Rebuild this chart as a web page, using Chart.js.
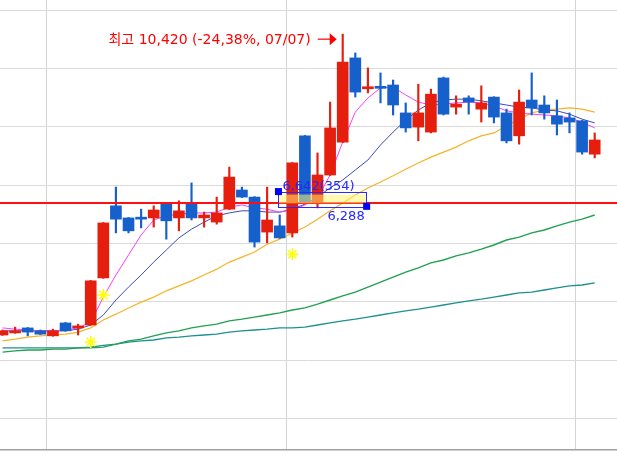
<!DOCTYPE html>
<html>
<head>
<meta charset="utf-8">
<script src="https://cdn.jsdelivr.net/npm/chart.js@4.4.1/dist/chart.umd.min.js"></script>
<style>
html, body { margin: 0; padding: 0; background: #ffffff; }
</style>
</head>
<body>
<canvas id="stockChart" width="617" height="455"></canvas>
<script>
// Daily candles (oldest -> newest)
const openPrices  = [3200,3250,3370,3300,3180,3490,3370,3440,4570,6300,6010,6010,6010,6340,6010,6340,6010,5910,6220,6680,6510,5670,5820,5650,7980,6390,7040,7830,9850,9110,9140,9200,8530,8190,8070,9370,8670,8890,8620,8910,8530,7980,8840,8720,8460,8410,8340,7540];
const highPrices  = [3320,3390,3380,3320,3340,3500,3460,4510,5900,6750,6020,6220,6300,6350,6420,6850,6150,6510,7230,6750,6520,6750,6080,7340,7990,7570,8790,10420,9970,9610,9490,9320,8770,9220,9100,9390,8940,8940,9180,8920,8620,9080,9490,8940,8840,8530,8350,8050];
const lowPrices   = [3190,3240,3180,3210,3170,3290,3200,3430,4560,5650,5650,5770,5790,5500,5700,5960,5790,5860,6210,6500,5310,5410,5520,5550,6380,6250,7030,7820,8910,9010,8770,8480,8070,7860,8050,8480,8500,8500,8310,8290,7810,7780,8480,8380,8000,8050,7540,7450];
const closePrices = [3300,3300,3270,3220,3300,3300,3390,4500,5890,5980,5700,5980,6200,5940,6180,6010,6080,6130,6990,6510,5430,5960,5530,7330,6390,7040,8170,9750,9030,9130,9120,8720,8170,8530,8980,8500,8740,8790,8770,8430,7860,8790,8650,8530,8260,8310,7590,7880];

// Moving averages
const ma5   = [3370,3340,3320,3300,3300,3320,3370,3510,4110,4640,5120,5600,5960,6060,6100,6130,6130,6150,6270,6320,6250,6220,6150,6200,6320,6490,7040,7830,8550,8890,9130,9150,8960,8790,8720,8740,8770,8790,8770,8700,8580,8530,8500,8480,8460,8410,8310,8170];
const ma10  = [3300,3300,3300,3300,3300,3300,3340,3440,3680,4040,4350,4640,4950,5240,5530,5740,5910,6060,6130,6180,6180,6150,6150,6220,6340,6510,6730,6920,7160,7400,7760,8070,8360,8600,8770,8840,8860,8860,8820,8770,8720,8670,8650,8600,8580,8500,8380,8290];
const ma20  = [3060,3100,3150,3180,3200,3220,3270,3370,3560,3700,3850,3990,4110,4260,4380,4500,4640,4780,4950,5070,5190,5380,5500,5650,5790,5980,6180,6370,6560,6730,6870,7020,7180,7330,7470,7590,7710,7860,7980,8050,8220,8380,8530,8600,8620,8650,8620,8550];
const ma60  = [2790,2820,2840,2840,2860,2860,2890,2890,2910,2980,3060,3100,3180,3250,3300,3370,3420,3460,3540,3580,3630,3680,3730,3800,3850,3940,4040,4140,4230,4350,4470,4590,4710,4810,4930,5000,5100,5170,5260,5360,5480,5550,5650,5720,5820,5910,5980,6080];
const ma120 = [2890,2890,2890,2890,2890,2890,2890,2910,2950,2980,3030,3060,3080,3130,3150,3180,3200,3220,3270,3300,3320,3340,3370,3370,3390,3440,3490,3540,3580,3630,3680,3730,3780,3820,3870,3920,3970,4020,4060,4110,4160,4210,4230,4280,4330,4380,4400,4450];

// Signal markers (yellow asterisks)
const starIndex = [7, 8, 23];
const starPrice = [3030, 4160, 5140];

// Grid positions
const priceGrid = [11000, 9600, 8200, 6800, 5400, 4000, 2600, 1200];
const monthBreaks = [3.5, 22.5, 45.5];

// Reference line and annotations
const refPrice = 6370;
const highIndex = 27;
const highPrice = 10420;
const highText = '최고 10,420 (-24,38%, 07/07)';
const measureFrom = 21.9;
const measureTo = 28.9;
const measureHigh = 6642;
const measureLow = 6288;
const measureTopText = '6,642(354)';
const measureLowText = '6,288';

const UP = '#e61e0e';
const DOWN = '#1660cc';
const candleColors = openPrices.map((o, i) => closePrices[i] >= o ? UP : DOWN);

const bodies = openPrices.map((o, i) => ({ x: i, y: [o, closePrices[i]] }));
const wicks = lowPrices.map((l, i) => ({ x: i, y: [l, highPrices[i]] }));
const toPoints = arr => arr.map((v, i) => ({ x: i, y: v }));

const lineDefaults = {
    type: 'line',
    pointRadius: 0,
    tension: 0,
    fill: false
};

// Overlay: high label, measuring box
const overlayPlugin = {
    id: 'overlay',
    afterDatasetsDraw(chart) {
        const { ctx, scales: { x, y } } = chart;
        ctx.save();

        // measuring box
        const bx1 = x.getPixelForValue(measureFrom);
        const bx2 = x.getPixelForValue(measureTo);
        const by1 = y.getPixelForValue(measureHigh);
        const by2 = y.getPixelForValue(measureLow);
        ctx.fillStyle = 'rgba(255, 245, 110, 0.55)';
        ctx.fillRect(bx1, by1 + 3, bx2 - bx1, by2 - by1 - 6);
        ctx.strokeStyle = '#2a2aff';
        ctx.lineWidth = 1;
        ctx.strokeRect(Math.round(bx1) + 0.5, Math.round(by1) + 0.5, Math.round(bx2 - bx1), Math.round(by2 - by1));
        ctx.fillStyle = '#0000ff';
        ctx.fillRect(bx1 - 3.5, by1 - 3.5, 7, 7);
        ctx.fillRect(bx2 - 3.5, by2 - 3.5, 7, 7);

        ctx.font = '13px "DejaVu Sans", "Noto Sans CJK KR", sans-serif';
        ctx.fillStyle = '#2626ff';
        ctx.textBaseline = 'alphabetic';
        ctx.textAlign = 'left';
        ctx.fillText(measureTopText, bx1 + 4, by1 - 2);
        ctx.textAlign = 'right';
        ctx.fillText(measureLowText, bx2 - 2, by2 + 14);

        // high label with arrow
        const hx = x.getPixelForValue(highIndex);
        const hy = y.getPixelForValue(highPrice);
        const tipX = hx - 6;
        const midY = hy + 5;
        ctx.strokeStyle = '#ff0000';
        ctx.fillStyle = '#ff0000';
        ctx.lineWidth = 1.2;
        ctx.beginPath();
        ctx.moveTo(tipX - 19, midY);
        ctx.lineTo(tipX - 6, midY);
        ctx.stroke();
        ctx.beginPath();
        ctx.moveTo(tipX, midY);
        ctx.lineTo(tipX - 7, midY - 6);
        ctx.lineTo(tipX - 7, midY + 6);
        ctx.closePath();
        ctx.fill();
        ctx.font = '14px "DejaVu Sans", "Noto Sans CJK KR", sans-serif';
        ctx.textAlign = 'right';
        ctx.fillText(highText, tipX - 26, midY + 5);

        ctx.restore();
    }
};

const ctx = document.getElementById('stockChart').getContext('2d');
new Chart(ctx, {
    type: 'bar',
    data: {
        datasets: [
            {
                ...lineDefaults,
                label: 'ref',
                data: [{ x: -1, y: refPrice }, { x: 50, y: refPrice }],
                borderColor: '#ff1010',
                borderWidth: 2,
                order: 0
            },
            {
                ...lineDefaults,
                label: 'signal',
                data: starIndex.map((v, i) => ({ x: v, y: starPrice[i] })),
                showLine: false,
                pointStyle: 'star',
                pointRadius: 6,
                borderColor: '#ffff00',
                backgroundColor: '#ffff00',
                pointBorderWidth: 1.5,
                order: 1
            },
            {
                label: 'body',
                data: bodies,
                backgroundColor: candleColors,
                borderWidth: 0,
                barThickness: 11,
                minBarLength: 2,
                grouped: false,
                order: 2
            },
            {
                label: 'wick',
                data: wicks,
                backgroundColor: candleColors,
                borderWidth: 0,
                barThickness: 1.5,
                grouped: false,
                order: 3
            },
            { ...lineDefaults, label: 'MA5', data: toPoints(ma5), borderColor: '#ff3cff', borderWidth: 1, order: 4 },
            { ...lineDefaults, label: 'MA10', data: toPoints(ma10), borderColor: '#3c4cb4', borderWidth: 1, order: 5 },
            { ...lineDefaults, label: 'MA20', data: toPoints(ma20), borderColor: '#f5b428', borderWidth: 1.2, order: 6 },
            { ...lineDefaults, label: 'MA60', data: toPoints(ma60), borderColor: '#22a050', borderWidth: 1.4, order: 7 },
            { ...lineDefaults, label: 'MA120', data: toPoints(ma120), borderColor: '#1f9090', borderWidth: 1.4, order: 8 }
        ]
    },
    options: {
        responsive: false,
        animation: false,
        layout: { autoPadding: false, padding: { left: 0, right: 0, top: 0, bottom: 5 } },
        plugins: {
            legend: { display: false },
            tooltip: { enabled: false }
        },
        scales: {
            x: {
                type: 'linear',
                min: -0.2,
                max: 48.77,
                offset: false,
                afterBuildTicks: scale => { scale.ticks = monthBreaks.map(v => ({ value: v })); },
                ticks: { display: false },
                grid: { color: '#d4d4d4', drawTicks: false, offset: false },
                border: { display: true, color: '#a0a0a0', width: 1.5 }
            },
            y: {
                type: 'linear',
                min: 440,
                max: 11240,
                afterBuildTicks: scale => { scale.ticks = priceGrid.map(v => ({ value: v })); },
                ticks: { display: false },
                grid: { color: '#dadada', drawTicks: false },
                border: { display: false }
            }
        }
    },
    plugins: [overlayPlugin]
});
</script>
</body>
</html>
